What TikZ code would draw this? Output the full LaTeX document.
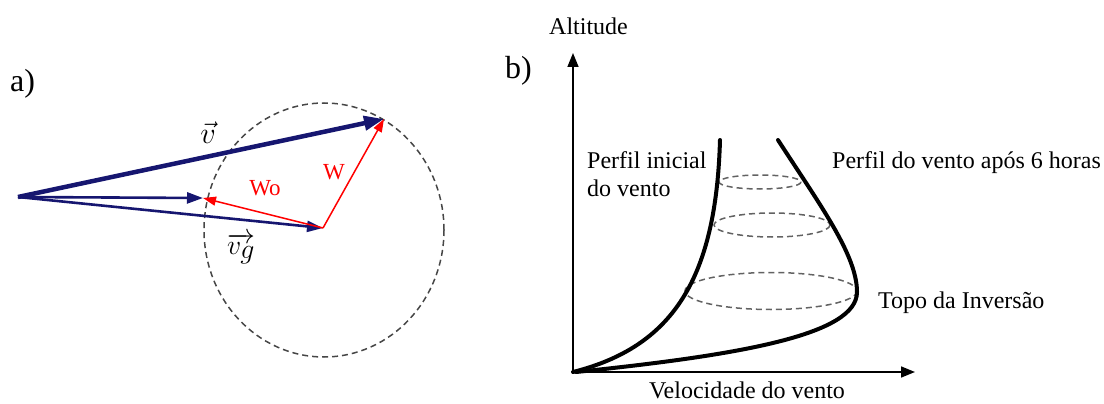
\documentclass[tikz,border=0pt]{standalone}
\usepackage{graphicx}
\usepackage{fontspec}
\setmainfont{Liberation Serif}
\usetikzlibrary{arrows.meta}
\definecolor{navyv}{RGB}{22,22,112}
\definecolor{dashgray}{RGB}{70,70,70}
\definecolor{vred}{RGB}{255,0,0}
\begin{document}
\begin{tikzpicture}[x=1pt,y=-1pt,
  lbl/.style={font=\fontsize{24}{28}\selectfont, inner sep=0pt},
  panel/.style={font=\fontsize{32}{36}\selectfont, inner sep=0pt},
  vthick/.style={navyv, line width=4.5pt, -{Triangle[length=20pt,width=14pt]}},
  vmid/.style={navyv, line width=2.6pt, -{Triangle[length=16pt,width=11pt]}},
  redv/.style={vred, line width=1.5pt, -{Triangle[length=13pt,width=9pt]}},
  dcirc/.style={dashgray, line width=1.5pt, dash pattern=on 6pt off 4pt},
  axisline/.style={black, line width=1.6pt, -{Triangle[length=14pt,width=11pt]}},
  profile/.style={black, line width=4pt, line cap=round},
  mathlbl/.style={font=\fontsize{24.88}{28}\selectfont, inner sep=0pt},
]
\useasboundingbox (0,0) rectangle (1104,404);

% ---------------- panel a ----------------
\node[panel, anchor=base west] (la) at (10,92) {a)};
\coordinate (O) at (18,197);
\coordinate (V) at (384,119);
\coordinate (S) at (203,198);
\coordinate (G) at (323,228);
\coordinate (C) at (324,230);
\draw[dcirc] (C) ellipse [x radius=120, y radius=127];
\draw[vthick] (O) -- (V);
\draw[vmid] (O) -- (S);
\draw[vmid] (O) -- (G);
\draw[redv] (G) -- (S);
\draw[redv] (G) -- (V);
\node[mathlbl] (lv) at (208,133) {\scalebox{1.22}{$\vec{v}$}};
\node[mathlbl] (lvg) at (241,249) {\scalebox{1.12}{$\overrightarrow{v_{\textstyle g}}$}};
\node[lbl, font=\fontsize{23}{27}\selectfont, text=vred] (lwo) at (265,188) {Wo};
\node[lbl, font=\fontsize{23}{27}\selectfont, text=vred] (lw) at (334,172) {W};

% ---------------- panel b ----------------
\node[panel, anchor=base west] (lb) at (505,78) {b)};
\coordinate (B0) at (573,372);
\coordinate (YT) at (573,53);
\coordinate (XT) at (915,372);
\draw[axisline] (B0) -- (YT);
\draw[axisline] (B0) -- (XT);
\node[lbl, anchor=base west] (alt) at (549,35) {Altitude};
\node[lbl, anchor=base] (vel) at (747,398) {Velocidade do vento};

% dashed rings
\draw[dcirc, dashgray!85] (760,182) ellipse [x radius=41, y radius=7];
\draw[dcirc, dashgray!85] (772,225) ellipse [x radius=58, y radius=12];
\draw[dcirc, dashgray!85] (771,291) ellipse [x radius=86, y radius=18.5];

% initial profile
\coordinate (P0) at (573,372);
\coordinate (P1) at (720,140);
\draw[profile] (P0) .. controls (672,347) and (716,280) .. (P1);
% profile after 6 hours
\coordinate (Q0) at (778,140);
\coordinate (Q1) at (857,292);
\coordinate (Q2) at (576,372);
\draw[profile] (Q0) .. controls (820,205) and (857,255) .. (Q1)
  .. controls (857,335) and (740,355) .. (Q2);

\node[lbl, anchor=base west] (pi1) at (587,168) {Perfil inicial};
\node[lbl, anchor=base west] (pi2) at (587,196) {do vento};
\node[lbl, anchor=base west] (p6) at (832,168) {Perfil do vento após 6 horas};
\node[lbl, anchor=base west] (tp) at (878,308) {Topo da Inversão};
\end{tikzpicture}
\end{document}
